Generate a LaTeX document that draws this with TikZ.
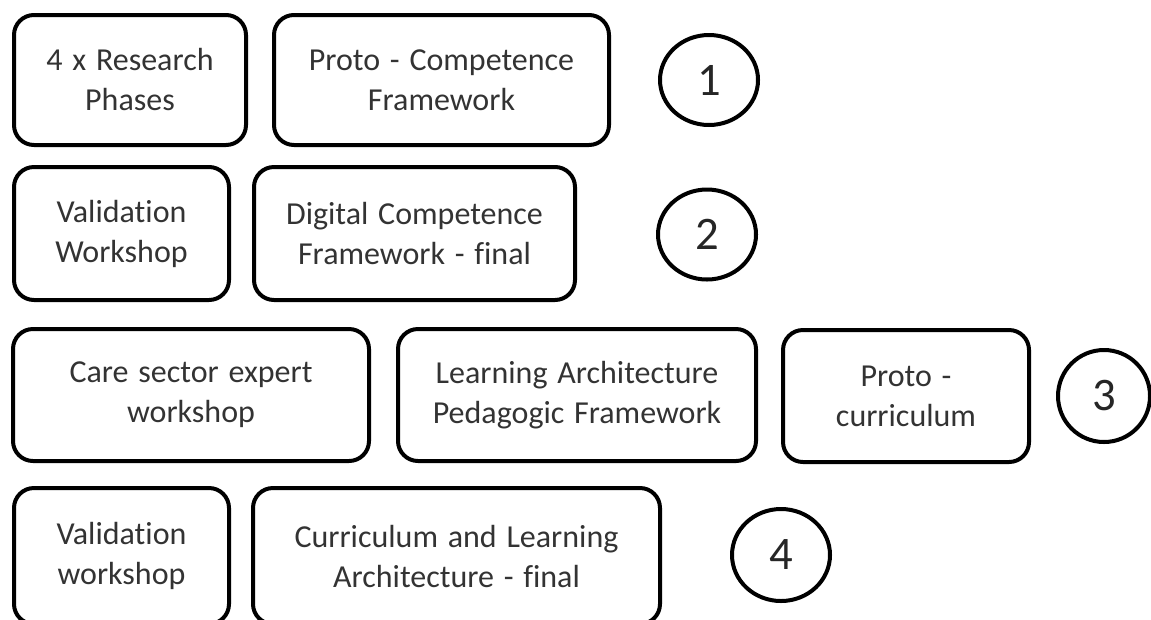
\documentclass[tikz,border=0pt]{standalone}
\usepackage{fontspec}
\setmainfont{Carlito}[Ligatures=NoCommon, WordSpace=1.35]
\usetikzlibrary{shapes.geometric}
\begin{document}
\begin{tikzpicture}[x=0.75pt,y=-0.75pt,
  box/.style={draw=black, line width=3pt, rounded corners=15pt, rectangle, align=center,
    text=black!80, font=\fontsize{24pt}{30pt}\selectfont, inner sep=0pt},
  num/.style={draw=black, line width=3pt, ellipse, inner sep=0pt,
    text=black!85, font=\fontsize{35pt}{40pt}\selectfont}]
\useasboundingbox (0,0) rectangle (1151,619);
\clip (0,0) rectangle (1151,619);
% row 1
\node[box, minimum width=174pt, minimum height=97.5pt] (a) at (130,80) {4 x Research\\Phases};
\node[box, minimum width=251.25pt, minimum height=97.5pt] (b) at (441.5,80) {Proto - Competence\\Framework};
\node[num, minimum width=73.5pt, minimum height=67.5pt] (n1) at (709,80) {1};
% row 2
\node[box, minimum width=161.25pt, minimum height=99.75pt] (d) at (121.5,233.5) {Validation\\Workshop};
\node[box, minimum width=240.75pt, minimum height=99.75pt] (e) at (414.5,233.5) {Digital Competence\\Framework - final};
\node[num, minimum width=73.5pt, minimum height=67.5pt] (n2) at (707,234.5) {2};
% row 3
\node[box, minimum width=267pt, minimum height=99pt] (f) at (191,395) {Care sector expert\\workshop};
\node[box, minimum width=268.5pt, minimum height=99pt] (g) at (577,395) {Learning Architecture\\Pedagogic Framework};
\node[box, minimum width=184.5pt, minimum height=99pt] (h) at (906,396) {Proto -\\curriculum};
\node[num, minimum width=69pt, minimum height=69pt] (n3) at (1104,396) {3};
% row 4
\node[box, minimum width=161.25pt, minimum height=102pt] (i) at (121.5,556) {Validation\\workshop};
\node[box, minimum width=305.25pt, minimum height=102pt] (j) at (456.5,556) {Curriculum and Learning\\Architecture - final};
\node[num, minimum width=73.5pt, minimum height=69pt] (n4) at (781,555) {4};
\end{tikzpicture}
\end{document}
